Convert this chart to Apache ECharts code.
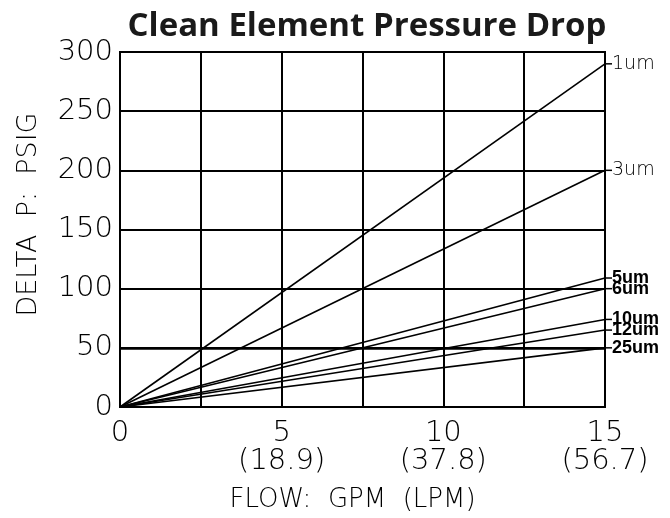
<!DOCTYPE html>
<html>
<head>
<meta charset="utf-8">
<script src="https://cdn.jsdelivr.net/npm/echarts@6/dist/echarts.min.js"></script>
<style>html,body{margin:0;padding:0;background:#fff}#c{width:670px;height:518px}</style>
</head>
<body>
<div id="c"></div>
<script>
const seriesNames = ['1um', '3um', '5um', '6um', '10um', '12um', '25um'];
const flowGPM = [0, 15];
const endValues = [290, 200, 109, 100, 74, 65, 50];
const xTickGPM = [0, 5, 10, 15];
const xTickLPM = ['', '(18.9)', '(37.8)', '(56.7)'];
const boldLabels = ['5um', '6um', '10um', '12um', '25um'];

const chart = echarts.init(document.getElementById('c'));
const thinFont = 'DejaVu Sans';
const boldFont = 'Liberation Sans';

const series = seriesNames.map((name, i) => {
  const bold = boldLabels.includes(name);
  return {
    name: name,
    type: 'line',
    symbol: 'circle',
    symbolSize: 0.01,
    showSymbol: true,
    showAllSymbol: true,
    itemStyle: { color: '#000' },
    lineStyle: { color: '#000', width: 1.6 },
    data: flowGPM.map((x, j) => {
      const item = { value: [x, j === 0 ? 0 : endValues[i]] };
      if (j === flowGPM.length - 1) {
        item.label = {
          show: true,
          position: 'right',
          distance: 0,
          color: '#000',
          fontFamily: bold ? boldFont : thinFont,
          fontWeight: bold ? 'bold' : 300,
          fontSize: bold ? 18 : 19,
          formatter: '{d|}' + name,
          rich: {
            d: { width: 7, height: 1.5, backgroundColor: '#000' }
          }
        };
      }
      return item;
    }),
    z: 3
  };
});

series.push({
  type: 'line',
  symbol: 'none',
  data: [],
  markLine: {
    silent: true,
    symbol: 'none',
    label: { show: false },
    lineStyle: { color: '#000', width: 2.6, type: 'solid' },
    data: [{ yAxis: 50 }]
  }
});

chart.setOption({
  animation: false,
  backgroundColor: '#fff',
  title: {
    text: 'Clean Element Pressure Drop',
    left: 362,
    top: 5,
    textAlign: 'center',
    textStyle: { fontFamily: 'Open Sans', fontWeight: 'bold', fontSize: 33, color: '#1a1a1a' }
  },
  grid: { left: 120, right: 65, top: 52, bottom: 103, show: true, borderColor: '#000', borderWidth: 2, backgroundColor: 'transparent' },
  xAxis: {
    type: 'value',
    min: 0, max: 15, interval: 2.5,
    name: 'FLOW:  GPM  (LPM)',
    nameLocation: 'middle',
    nameGap: 80,
    nameTextStyle: { fontFamily: thinFont, fontWeight: 200, fontSize: 26, color: '#000', padding: [0, 20, 0, 0] },
    axisLine: { show: true, lineStyle: { color: '#000', width: 2 } },
    axisTick: { show: false },
    splitLine: { show: true, lineStyle: { color: '#000', width: 2 } },
    axisLabel: {
      showMinLabel: true, showMaxLabel: true,
      margin: 12,
      lineHeight: 28,
      fontFamily: thinFont, fontWeight: 200, fontSize: 29, color: '#000',
      formatter: v => {
        const k = xTickGPM.indexOf(v);
        if (k < 0) return '';
        return xTickLPM[k] ? xTickGPM[k] + '\n' + xTickLPM[k] : String(xTickGPM[k]);
      }
    }
  },
  yAxis: {
    type: 'value',
    min: 0, max: 300, interval: 50,
    name: 'DELTA  P:  PSIG',
    nameLocation: 'middle',
    nameGap: 78,
    nameTextStyle: { fontFamily: thinFont, fontWeight: 200, fontSize: 27, color: '#000', padding: [0, 0, 0, 30] },
    axisLine: { show: true, lineStyle: { color: '#000', width: 2 } },
    axisTick: { show: false },
    splitLine: { show: true, lineStyle: { color: '#000', width: 2 } },
    axisLabel: { margin: 7, fontFamily: thinFont, fontWeight: 200, fontSize: 29, color: '#000' }
  },
  series: series
});
</script>
</body>
</html>
